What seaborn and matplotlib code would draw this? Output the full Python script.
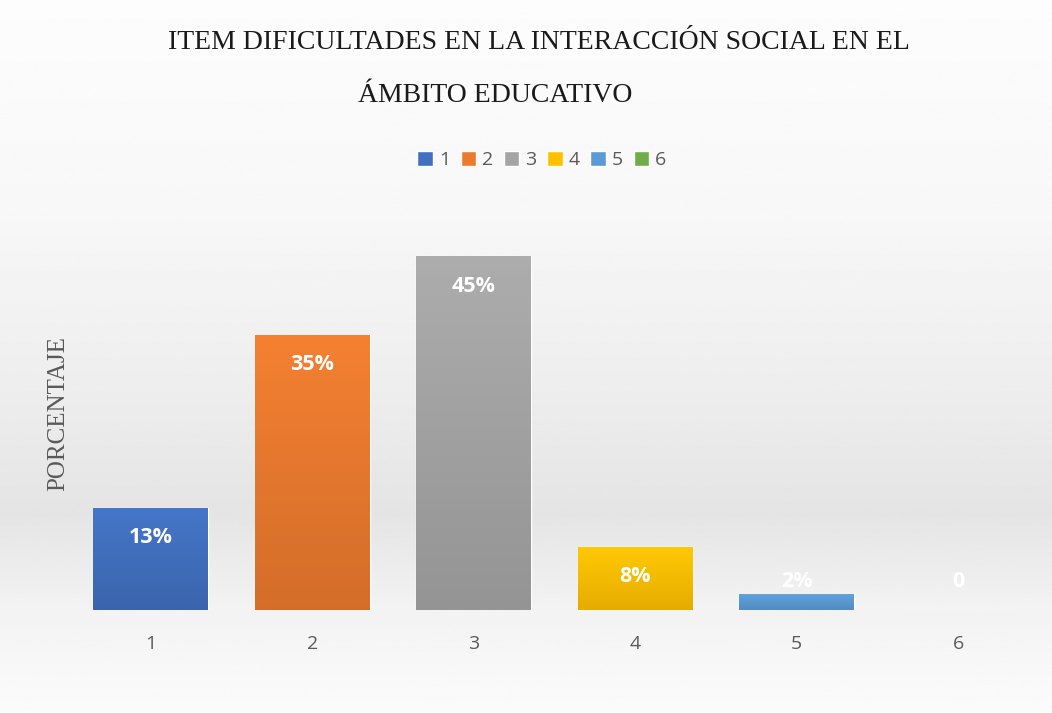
import numpy as np
import pandas as pd
import matplotlib
matplotlib.use("Agg")
import matplotlib.pyplot as plt
import matplotlib.colors as mcolors
import seaborn as sns

# data
categories = ["1", "2", "3", "4", "5", "6"]
values = [13, 35, 45, 8, 2, 0]
labels = ["13%", "35%", "45%", "8%", "2%", "0"]
colors = ["#4170C0", "#EB7A2E", "#A5A5A5", "#FFC000", "#5B9BD5", "#70AD47"]

title_1 = "ITEM DIFICULTADES EN LA INTERACCIÓN SOCIAL EN EL"
title_2 = "ÁMBITO EDUCATIVO"
y_label = "PORCENTAJE"

sns.set_theme(style="white")
plt.rcParams["font.family"] = ["Open Sans", "DejaVu Sans"]

df = pd.DataFrame({"cat": categories, "val": values})

fig = plt.figure(figsize=(10.52, 7.13), dpi=100)

# soft grey background gradient behind everything
bg = fig.add_axes([0, 0, 1, 1], zorder=-10)
yy = np.linspace(0, 1, 300)
# 0 = top, 1 = bottom
shade = np.interp(yy, [0, 0.3, 0.55, 0.72, 0.85, 1.0],
                  [0.99, 0.97, 0.93, 0.895, 0.95, 0.985])
bg.imshow(np.repeat(shade[:, None], 2, axis=1), cmap="gray", vmin=0, vmax=1,
          aspect="auto", extent=[0, 1, 0, 1], origin="upper")
bg.set_xlim(0, 1)
bg.set_ylim(0, 1)
bg.axis("off")

ax = fig.add_axes([0.0665, 0.1445, 0.921, 0.5512])
ax.patch.set_alpha(0)

sns.barplot(data=df, x="cat", y="val", hue="cat", palette=colors,
            width=0.71, saturation=1, legend=True, ax=ax)

ax.set_ylim(0, 50)
ax.set_xlim(-0.5, 5.5)
for s in ax.spines.values():
    s.set_visible(False)
ax.set_yticks([])
ax.set_xlabel("")
ax.set_ylabel("")
ax.tick_params(axis="x", length=0, pad=18, labelsize=14, labelcolor="#595959")

# vertical gradient on each bar (lighter top, darker bottom)
for patch, c in zip(ax.patches[:len(values)], colors):
    x0, y0 = patch.get_x(), patch.get_y()
    w, h = patch.get_width(), patch.get_height()
    if h <= 0:
        continue
    rgb = np.array(mcolors.to_rgb(c))
    top = np.clip(rgb * 1.03 + 0.01, 0, 1)
    bot = rgb * 0.9
    g = np.linspace(0, 1, 64)[:, None]
    img = top * (1 - g[..., None]) + bot * g[..., None]
    im = ax.imshow(np.repeat(img, 2, axis=1), extent=[x0, x0 + w, y0, y0 + h],
                   aspect="auto", origin="upper", zorder=patch.get_zorder() + 0.1)
    im.set_clip_path(patch)

# value labels
for i, (v, lab) in enumerate(zip(values, labels)):
    ypos = v - 3.8 if v > 5 else 3.6
    ax.text(i, ypos, lab, ha="center", va="center", color="white",
            fontsize=15.5, fontweight="bold", zorder=5)

# legend
handles, leg_labels = ax.get_legend_handles_labels()
ax.legend(handles, leg_labels, loc="center", bbox_to_anchor=(0.515, 0.7755),
          bbox_transform=fig.transFigure, ncol=6, frameon=False,
          handlelength=0.8, handleheight=0.8, handletextpad=0.3,
          columnspacing=0.55, fontsize=14, labelcolor="#595959")

# titles
fig.text(0.5125, 0.941, title_1, ha="center", va="center", fontsize=20,
         family="Liberation Serif", color="#1a1a1a")
fig.text(0.471, 0.866, title_2, ha="center", va="center", fontsize=20,
         family="Liberation Serif", color="#1a1a1a")
fig.text(0.055, 0.42, y_label, ha="center", va="center", rotation=90,
         fontsize=18, family="Liberation Serif", color="#595959")

fig.savefig("out.png", dpi=100)
